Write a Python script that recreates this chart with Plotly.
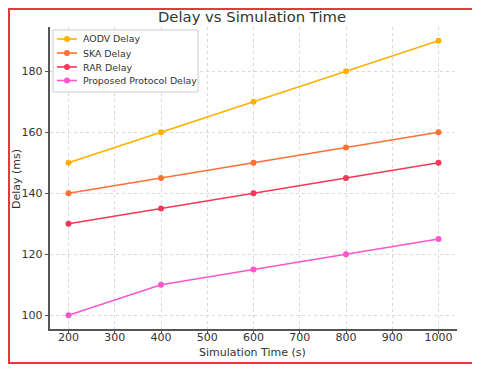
import plotly.graph_objects as go

sim_time = [200, 400, 600, 800, 1000]
aodv_delay = [150, 160, 170, 180, 190]
ska_delay = [140, 145, 150, 155, 160]
rar_delay = [130, 135, 140, 145, 150]
proposed_delay = [100, 110, 115, 120, 125]

series = [
    ("AODV Delay", aodv_delay, "#FFB000"),
    ("SKA Delay", ska_delay, "#FF7033"),
    ("RAR Delay", rar_delay, "#F5385A"),
    ("Proposed Protocol Delay", proposed_delay, "#FF55CC"),
]

# page body has an 8px margin, so the figure is laid out 8px in from the window edge
OFF = 8
W, H = 480 - OFF, 368 - OFF
L, R, T, B = 42, 23, 19, 39
pw, ph = W - L - R, H - T - B


def px(sx):
    return (sx - OFF - L) / pw


def py(sy):
    return (H - B - (sy - OFF)) / ph


fig = go.Figure()
for name, vals, color in series:
    fig.add_trace(go.Scatter(
        x=sim_time, y=vals, name=name, mode="lines+markers",
        line=dict(color=color, width=1.6),
        marker=dict(color=color, size=6),
    ))

axis_style = dict(showgrid=True, gridcolor="#d9d9d9", griddash="dot", gridwidth=1,
                  showline=True, linecolor="#555555", linewidth=1.5,
                  ticks="outside", ticklen=3.5, tickcolor="#555555",
                  tickfont=dict(size=11, color="#333333"), zeroline=False,
                  automargin=False)

fig.update_xaxes(range=[160, 1040], tickvals=list(range(200, 1001, 100)),
                 ticklabelstandoff=-6, **axis_style)
fig.update_yaxes(range=[95.5, 194.5], tickvals=[100, 120, 140, 160, 180],
                 **axis_style)

# axis titles
fig.add_annotation(text="Simulation Time (s)", xref="paper", yref="paper",
                   x=px(252), y=py(352), xanchor="center", yanchor="middle",
                   showarrow=False, font=dict(size=11, color="#333333"))
fig.add_annotation(text="Delay (ms)", xref="paper", yref="paper",
                   x=px(16), y=py(179), xanchor="center", yanchor="middle",
                   textangle=-90, showarrow=False, font=dict(size=11, color="#333333"))

# outer red frame
fig.add_shape(type="rect", xref="paper", yref="paper",
              x0=px(9), x1=px(473), y0=py(363), y1=py(9),
              line=dict(color="#E8383D", width=2), fillcolor="rgba(0,0,0,0)")

# legend box, drawn by hand to match the compact spacing
fig.add_shape(type="rect", xref="paper", yref="paper",
              x0=px(53), x1=px(198), y0=py(92), y1=py(30),
              line=dict(color="#cccccc", width=1), fillcolor="rgba(255,255,255,0.85)")
rows = [39, 53, 67, 80.5]
for (name, _, color), ry in zip(series, rows):
    fig.add_shape(type="line", xref="paper", yref="paper",
                  x0=px(57), x1=px(77), y0=py(ry), y1=py(ry),
                  line=dict(color=color, width=1.6))
    fig.add_shape(type="circle", xref="paper", yref="paper",
                  xsizemode="pixel", ysizemode="pixel",
                  xanchor=px(67), yanchor=py(ry),
                  x0=-3, x1=3, y0=-3, y1=3,
                  line=dict(color=color, width=0), fillcolor=color)
    fig.add_annotation(text=name, xref="paper", yref="paper",
                       x=px(81), y=py(ry), xanchor="left", yanchor="middle",
                       showarrow=False, font=dict(size=9.4, color="#333333"))

fig.update_layout(
    width=W, height=H,
    margin=dict(l=L, r=R, t=T, b=B),
    paper_bgcolor="white", plot_bgcolor="white",
    font=dict(family="DejaVu Sans", color="#333333"),
    title=dict(text="Delay vs Simulation Time", x=px(252), xanchor="center", xref="paper",
               y=1 - (17 - OFF) / H, yanchor="middle", font=dict(size=14.8, color="#333333")),
    showlegend=False,
)

fig.write_html("out.html")
